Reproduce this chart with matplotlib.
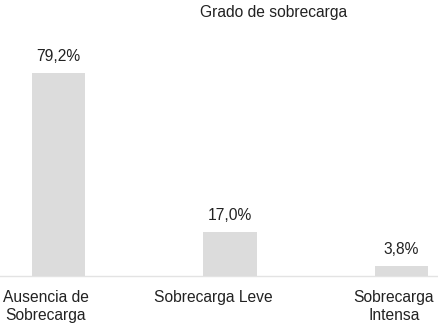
import matplotlib
matplotlib.use("Agg")
import matplotlib.pyplot as plt
import matplotlib.transforms as mtransforms

categories = ["Ausencia de\nSobrecarga", "Sobrecarga Leve", "Sobrecarga\nIntensa"]
values = [79.2, 17.0, 3.8]
value_labels = ["79,2%", "17,0%", "3,8%"]
title = "Grado de sobrecarga"

plt.rcParams['font.family'] = ['Liberation Sans', 'DejaVu Sans']
FS = 11.25

fig = plt.figure(figsize=(4.39, 3.28), dpi=100)
ax = fig.add_axes([0, 52/328, 1, 276/328])

x = list(range(len(categories)))
ax.bar(x, values, width=0.31, color="#dcdcdc", zorder=2)
ax.set_xlim(-0.341, 2.219)
ax.set_ylim(0, 276/2.56)

for xi, v, lab in zip(x, values, value_labels):
    ax.annotate(lab, (xi, v), xytext=(0, 7), textcoords="offset points",
                ha="center", va="bottom", fontsize=FS, color="#222222")

ax.axhline(0, color="#e3e3e3", lw=1.0, zorder=1, clip_on=False)

for s in ax.spines.values():
    s.set_visible(False)
ax.set_yticks([])
ax.set_xticks(x)
ax.set_xticklabels(categories, fontsize=FS, color="#222222", linespacing=1.3)
ax.tick_params(axis="x", length=0, pad=10)
offsets = [-13, -17, -7.5]
for lbl, dx in zip(ax.get_xticklabels(), offsets):
    lbl.set_transform(lbl.get_transform() + mtransforms.ScaledTranslation(dx/100, 0, fig.dpi_scale_trans))

fig.text(273.5/439, 1 - 12/328, title, ha="center", va="center", fontsize=FS, color="#222222")

fig.savefig("out.png", dpi=100)
